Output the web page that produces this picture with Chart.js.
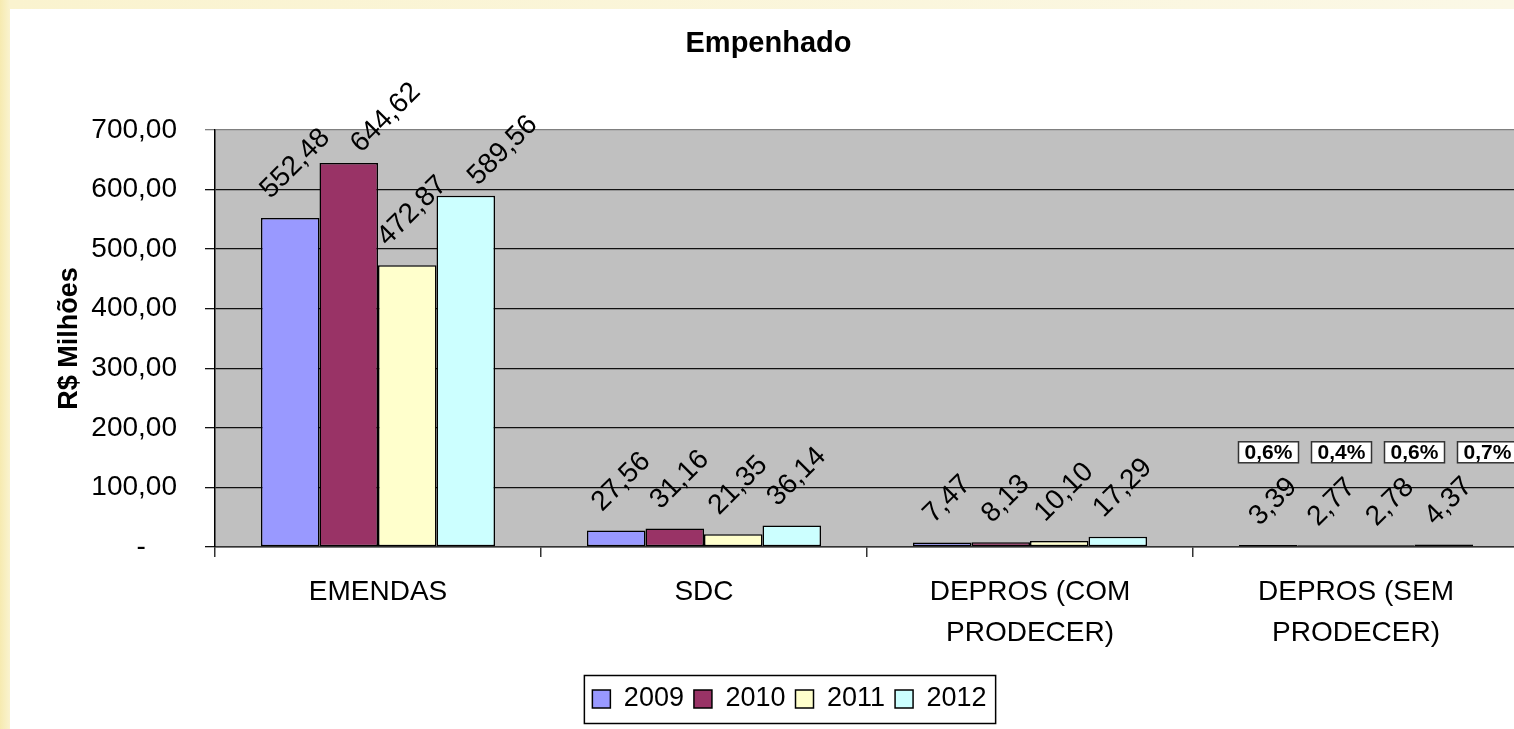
<!DOCTYPE html>
<html>
<head>
<meta charset="utf-8">
<script src="https://cdn.jsdelivr.net/npm/chart.js@4.4.1/dist/chart.umd.min.js"></script>
<style>
  html, body { margin: 0; padding: 0; overflow: hidden; }
  body { width: 1514px; height: 729px; position: relative;
         background: linear-gradient(90deg, #f6eab0 0, #faf3cf 10px, #fbf8e6 100%); }
  #wrap { position: absolute; left: 10px; top: 9px; width: 1520px; height: 720px; background: #fff; }
</style>
</head>
<body>
<div id="wrap"><canvas id="grafico" width="1520" height="720"></canvas></div>
<script>
// dados
const categorias = ['EMENDAS', 'SDC', ['DEPROS (COM', 'PRODECER)'], ['DEPROS (SEM', 'PRODECER)']];
const anos = ['2009', '2010', '2011', '2012'];
const valores2009 = [552.48, 27.56, 7.47, 3.39];
const valores2010 = [644.62, 31.16, 8.13, 2.77];
const valores2011 = [472.87, 21.35, 10.10, 2.78];
const valores2012 = [589.56, 36.14, 17.29, 4.37];
const cores = ['#9999FF', '#993366', '#FFFFCC', '#CCFFFF'];
const yTicks = [0, 100, 200, 300, 400, 500, 600, 700];
const yTickLabels = ['-    ', '100,00', '200,00', '300,00', '400,00', '500,00', '600,00', '700,00'];
const percentuais = ['0,6%', '0,4%', '0,6%', '0,7%']; // DEPROS (SEM PRODECER)

const fonte = '"Liberation Sans", Arial, sans-serif';
Chart.defaults.font.family = fonte;
Chart.defaults.color = '#000';

const formatar = v => v.toFixed(2).replace('.', ',');

// fundo cinza da área do gráfico
const fundoPlot = {
    id: 'fundoPlot',
    beforeDraw(chart) {
        const { ctx, chartArea: a } = chart;
        ctx.save();
        ctx.fillStyle = '#C0C0C0';
        ctx.fillRect(a.left, a.top, a.right - a.left, a.bottom - a.top);
        ctx.restore();
    },
    afterLayout(chart) {
        // legenda e título um pouco deslocados, como no original
        chart.legend.left += 25;
        chart.legend.right += 25;
        chart.titleBlock.left += 4;
        chart.titleBlock.right += 4;
    }
};

// rótulos inclinados e caixinhas de percentual
const rotulos = {
    id: 'rotulos',
    afterDatasetsDraw(chart) {
        const ctx = chart.ctx;
        const tam = 28;
        const k = Math.SQRT1_2;
        ctx.save();
        ctx.font = tam + 'px ' + fonte;
        ctx.fillStyle = '#000';
        ctx.textAlign = 'center';
        ctx.textBaseline = 'middle';
        const nCat = chart.data.labels.length;
        for (let i = 0; i < nCat; i++) {
            let ant = null;
            chart.data.datasets.forEach((ds, di) => {
                const bar = chart.getDatasetMeta(di).data[i];
                const txt = formatar(ds.data[i]);
                const w = ctx.measureText(txt).width;
                let x = bar.x + 5;
                let y = bar.y - 14 - (w + tam) * k / 2;
                if (ant) {
                    // se encostar no rótulo anterior, empurra para a direita
                    const du = (x - ant.x) * k - (y - ant.y) * k;
                    const dv = (x - ant.x) * k + (y - ant.y) * k;
                    if (Math.abs(dv) < tam && du < (w + ant.w) / 2 + 12) {
                        x += 32;
                        y += 9;
                    }
                }
                ctx.save();
                ctx.translate(x, y);
                ctx.rotate(-Math.PI / 4);
                ctx.fillText(txt, 0, 0);
                ctx.restore();
                ant = { x, y, w };
            });
        }

        const cx = chart.scales.x.getPixelForValue(3);
        const cy = chart.scales.y.getPixelForValue(159);
        ctx.font = 'bold 21px ' + fonte;
        percentuais.forEach((p, i) => {
            const x = cx + 22 + (i - 1.5) * 73;
            ctx.fillStyle = '#fff';
            ctx.fillRect(x - 30, cy - 10.5, 60, 21);
            ctx.strokeStyle = '#333';
            ctx.lineWidth = 1.5;
            ctx.strokeRect(x - 30, cy - 10.5, 60, 21);
            ctx.fillStyle = '#000';
            ctx.fillText(p, x, cy + 1);
        });
        ctx.restore();
    },
    afterDraw(chart) {
        // moldura da legenda
        const hb = chart.legend.legendHitBoxes;
        if (!hb || !hb.length) return;
        const ult = hb[hb.length - 1];
        const l = hb[0].left - 8, r = ult.left + ult.width + 9;
        const t = hb[0].top - 10, b = hb[0].top + hb[0].height + 11;
        const ctx = chart.ctx;
        ctx.save();
        ctx.strokeStyle = '#000';
        ctx.lineWidth = 1.5;
        ctx.strokeRect(l, t, r - l, b - t);
        ctx.restore();
    }
};

const series = [valores2009, valores2010, valores2011, valores2012];

new Chart(document.getElementById('grafico'), {
    type: 'bar',
    data: {
        labels: categorias,
        datasets: series.map((vals, i) => ({
            label: anos[i],
            data: vals,
            backgroundColor: cores[i],
            borderColor: '#000',
            borderWidth: 1.5,
            borderSkipped: false,
            categoryPercentage: 0.718,
            barPercentage: 1
        }))
    },
    options: {
        responsive: false,
        animation: false,
        devicePixelRatio: 1,
        layout: { padding: { left: 0, top: 0, right: 11, bottom: 6.5 } },
        scales: {
            x: {
                grid: { drawOnChartArea: false, drawTicks: true, tickLength: 10, color: '#333', lineWidth: 1.5 },
                border: { color: '#333', width: 1.5 },
                ticks: { font: { size: 28, lineHeight: 1.464 }, padding: 14.5, maxRotation: 0, autoSkip: false },
                afterFit(scale) { scale.height = 128.5; }
            },
            y: {
                min: 0,
                max: 700,
                grid: {
                    color: ctx => ctx.tick && ctx.tick.value === 700 ? '#808080' : '#111',
                    lineWidth: 1.3,
                    drawTicks: true,
                    tickLength: 10
                },
                border: { color: '#000', width: 1.5 },
                ticks: {
                    stepSize: 100,
                    padding: 28,
                    font: { size: 28 },
                    callback: v => yTickLabels[yTicks.indexOf(v)]
                },
                title: {
                    display: true,
                    text: 'R$ Milhões',
                    font: { size: 27, weight: 'bold' },
                    padding: { top: 43.8, bottom: 0 }
                },
                afterFit(scale) { scale.width = 205; }
            }
        },
        plugins: {
            title: {
                display: true,
                text: 'Empenhado',
                font: { size: 29, weight: 'bold' },
                padding: { top: 17.6, bottom: 68.6 }
            },
            legend: {
                position: 'bottom',
                labels: { font: { size: 27 }, boxWidth: 18, boxHeight: 18, padding: 10 }
            },
            tooltip: { enabled: false }
        }
    },
    plugins: [fundoPlot, rotulos]
});
</script>
</body>
</html>
